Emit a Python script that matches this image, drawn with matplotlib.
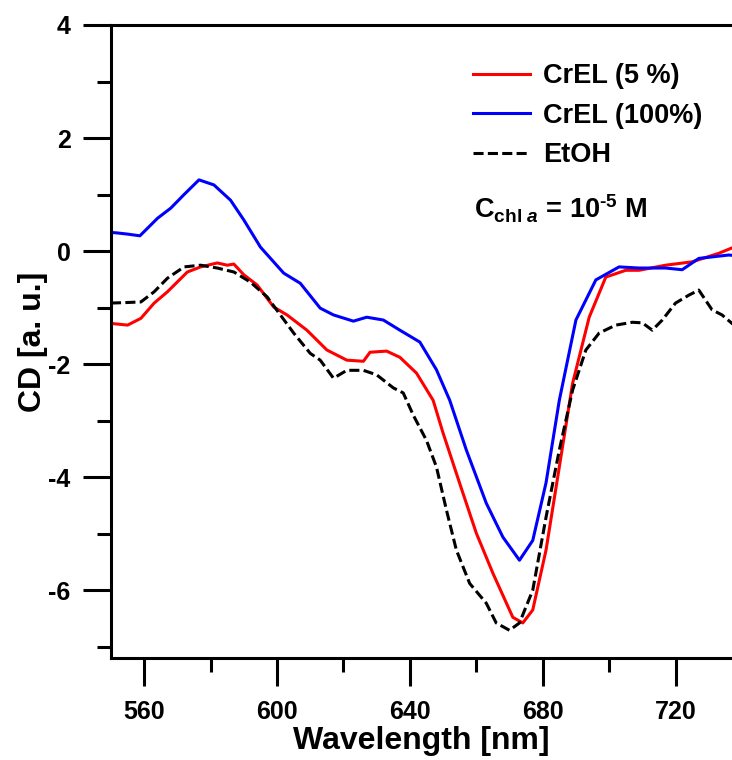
import matplotlib
matplotlib.use("Agg")
import matplotlib.pyplot as plt
from matplotlib.ticker import MultipleLocator

plt.rcParams['font.family'] = ['Liberation Sans', 'DejaVu Sans']
plt.rcParams['font.weight'] = 'bold'
plt.rcParams['axes.unicode_minus'] = False
plt.rcParams['mathtext.fontset'] = 'custom'
plt.rcParams['mathtext.rm'] = 'Liberation Sans:bold'
plt.rcParams['mathtext.it'] = 'Liberation Sans:bold:italic'
plt.rcParams['mathtext.bf'] = 'Liberation Sans:bold'

# ---- data ----
wl_red = [550, 555, 559, 563, 567, 573, 577, 582, 585, 587, 590, 594, 599, 603, 609, 615,
          621, 626, 628, 633, 637, 642, 647, 650, 655, 660, 665, 671, 674, 677, 681, 685,
          689, 694, 699, 705, 709, 717, 725, 733, 738]
cd_red = [-1.28, -1.31, -1.19, -0.92, -0.72, -0.37, -0.28, -0.21, -0.25, -0.23, -0.42, -0.60,
          -0.99, -1.13, -1.40, -1.75, -1.93, -1.95, -1.79, -1.77, -1.88, -2.16, -2.64, -3.22,
          -4.11, -4.99, -5.70, -6.48, -6.58, -6.35, -5.29, -3.82, -2.34, -1.17, -0.46, -0.34,
          -0.34, -0.25, -0.19, -0.04, 0.08]

wl_blue = [550, 552, 555, 558.7, 564, 568, 572, 576.5, 581, 586, 590, 595, 602, 607, 613, 617,
           623, 627, 632, 637, 643, 648, 652, 657, 663, 668, 673, 677, 681, 685, 690, 696,
           703, 709, 717, 722, 727, 736, 738]
cd_blue = [0.33, 0.32, 0.30, 0.27, 0.58, 0.76, 1.00, 1.26, 1.17, 0.90, 0.55, 0.07, -0.39, -0.57,
           -1.01, -1.13, -1.24, -1.17, -1.22, -1.40, -1.61, -2.10, -2.64, -3.52, -4.46, -5.06,
           -5.47, -5.12, -4.10, -2.64, -1.22, -0.51, -0.28, -0.30, -0.30, -0.33, -0.13, -0.07,
           -0.08]

wl_etoh = [550, 555, 559, 563, 567, 572, 577, 582, 587, 592, 597, 601, 605, 610, 613, 617, 621,
           626, 630, 635, 638, 641, 645, 648, 651, 654, 658, 663, 666, 670, 673, 677, 681, 685,
           689, 693, 697, 702, 707, 710, 713, 716, 720, 724, 727, 731, 734, 738]
cd_etoh = [-0.92, -0.91, -0.90, -0.72, -0.48, -0.28, -0.25, -0.30, -0.37, -0.55, -0.81, -1.13,
           -1.45, -1.81, -1.93, -2.25, -2.11, -2.11, -2.19, -2.42, -2.51, -2.90, -3.35, -3.82,
           -4.58, -5.29, -5.88, -6.23, -6.58, -6.71, -6.58, -6.00, -4.71, -3.52, -2.46, -1.75,
           -1.45, -1.31, -1.26, -1.27, -1.40, -1.22, -0.92, -0.78, -0.69, -1.04, -1.13, -1.33]

labels = ['CrEL (5 %)', 'CrEL (100%)', 'EtOH']
x_ticks = [560, 600, 640, 680, 720]
y_ticks = [-6, -4, -2, 0, 2, 4]

fig = plt.figure(figsize=(7.32, 7.60), dpi=100)
ax = fig.add_axes([111/732, 1 - 658/760, 1 - 111/732, (658 - 25)/760])

lw = 2.2
ax.plot(wl_red, cd_red, color='#ff0000', lw=lw, label=labels[0])
ax.plot(wl_blue, cd_blue, color='#0000ff', lw=lw, label=labels[1])
ax.plot(wl_etoh, cd_etoh, color='black', lw=lw, dashes=(3.3, 1.4), label=labels[2])

ax.set_xlim(550, 737)
ax.set_ylim(-7.2, 4)
ax.set_xticks(x_ticks)
ax.set_yticks(y_ticks)
ax.xaxis.set_minor_locator(MultipleLocator(20))
ax.yaxis.set_minor_locator(MultipleLocator(1))

for s in ['left', 'bottom', 'top']:
    ax.spines[s].set_linewidth(2.2)
ax.spines['right'].set_visible(False)

ax.tick_params(axis='both', which='major', direction='out', length=20, width=2.2,
               labelsize=18, top=False, right=False)
ax.tick_params(axis='both', which='minor', direction='out', length=10, width=2.2,
               top=False, right=False)
ax.tick_params(axis='x', which='major', pad=10)
ax.tick_params(axis='y', which='major', pad=9)

ax.set_xlabel('Wavelength [nm]', fontsize=23, fontweight='bold', labelpad=2)
ax.set_ylabel('CD [a. u.]', fontsize=23, fontweight='bold', labelpad=0)

leg = ax.legend(loc='upper left', bbox_to_anchor=(0.565, 0.957), frameon=False,
                fontsize=19.5, handlelength=2.1, handletextpad=0.5, labelspacing=0.5,
                borderaxespad=0)

ax.text(0.585, 0.71, r'C$_{\mathregular{chl}\ \mathit{a}}$ = 10$^{\text{-5}}$ M',
        transform=ax.transAxes, fontsize=19.5, fontweight='bold', ha='left', va='center')

fig.savefig('out.png', dpi=100)
